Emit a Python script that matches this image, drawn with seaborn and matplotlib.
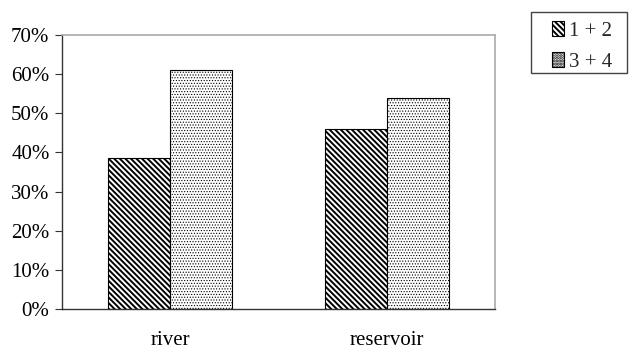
import matplotlib
matplotlib.use("Agg")
import matplotlib.pyplot as plt
import seaborn as sns
import pandas as pd
from matplotlib.ticker import PercentFormatter, FixedLocator
from matplotlib.patches import Patch, Rectangle

categories = ["river", "reservoir"]
groups = ["1 + 2", "3 + 4"]
values_12 = [38.5, 46.0]
values_34 = [61.0, 54.0]

df = pd.DataFrame({
    "site": categories * 2,
    "group": [groups[0]] * 2 + [groups[1]] * 2,
    "value": values_12 + values_34,
})

sns.set_theme(style="white")
plt.rcParams["font.family"] = ["Liberation Serif", "DejaVu Serif"]
plt.rcParams["hatch.linewidth"] = 1.4
plt.rcParams["hatch.color"] = "black"

W, H = 629, 352
fig = plt.figure(figsize=(W / 100, H / 100), dpi=100)
ax = fig.add_axes([62 / W, 43 / H, 433 / W, 274 / H])

sns.barplot(data=df, x="site", y="value", hue="group", ax=ax,
            width=0.574, palette=["white", "white"], edgecolor="black",
            linewidth=0.8, legend=False, dodge=True)

hatches = {groups[0]: "\\\\\\\\\\\\", groups[1]: "......"}
hatch_lw = {groups[0]: 1.4, groups[1]: 0.5}


def style_patch(p, g):
    p.set_hatch(hatches[g])
    p.set_edgecolor("black")
    if hasattr(p, "set_hatch_linewidth"):
        p.set_hatch_linewidth(hatch_lw[g])


for container, g in zip(ax.containers, groups):
    for bar in container:
        style_patch(bar, g)

ax.set_ylim(0, 70)
ax.set_xlim(-0.5, 1.5)
ax.yaxis.set_major_locator(FixedLocator([0, 10, 20, 30, 40, 50, 60, 70]))
ax.yaxis.set_major_formatter(PercentFormatter(decimals=0))
ax.set_xlabel("")
ax.set_ylabel("")

ax.set_xticks([0, 1])
ax.set_xticks([-0.5, 0.5, 1.5], minor=True)
ax.tick_params(axis="x", which="major", length=0, labelsize=15, pad=16, colors="black")
ax.tick_params(axis="x", which="minor", length=5, width=0.8, direction="out", color="#333333")
ax.tick_params(axis="y", which="major", length=5, width=0.8, direction="out", labelsize=15,
               color="#333333", labelcolor="black", left=True, pad=4)

for side in ["left", "bottom"]:
    ax.spines[side].set_color("#333333")
    ax.spines[side].set_linewidth(1.0)
for side in ["top", "right"]:
    ax.spines[side].set_color("#aaaaaa")
    ax.spines[side].set_linewidth(1.2)
    ax.spines[side].set_visible(True)

handles = []
for g in groups:
    h = Patch(facecolor="white", edgecolor="black", linewidth=0.8)
    style_patch(h, g)
    handles.append(h)
leg = fig.legend(handles, groups, loc="upper left", bbox_to_anchor=(552 / W, 1 - 21 / H),
                 frameon=False, fontsize=15,
                 handlelength=0.58, handleheight=0.7, handletextpad=0.25,
                 borderpad=0, labelspacing=0.55, borderaxespad=0)

frame = Rectangle((531 / W, 1 - 73 / H), 96 / W, 61 / H, transform=fig.transFigure,
                  facecolor="none", edgecolor="#444444", linewidth=1.0)
fig.patches.append(frame)

fig.savefig("out.png", dpi=100)
